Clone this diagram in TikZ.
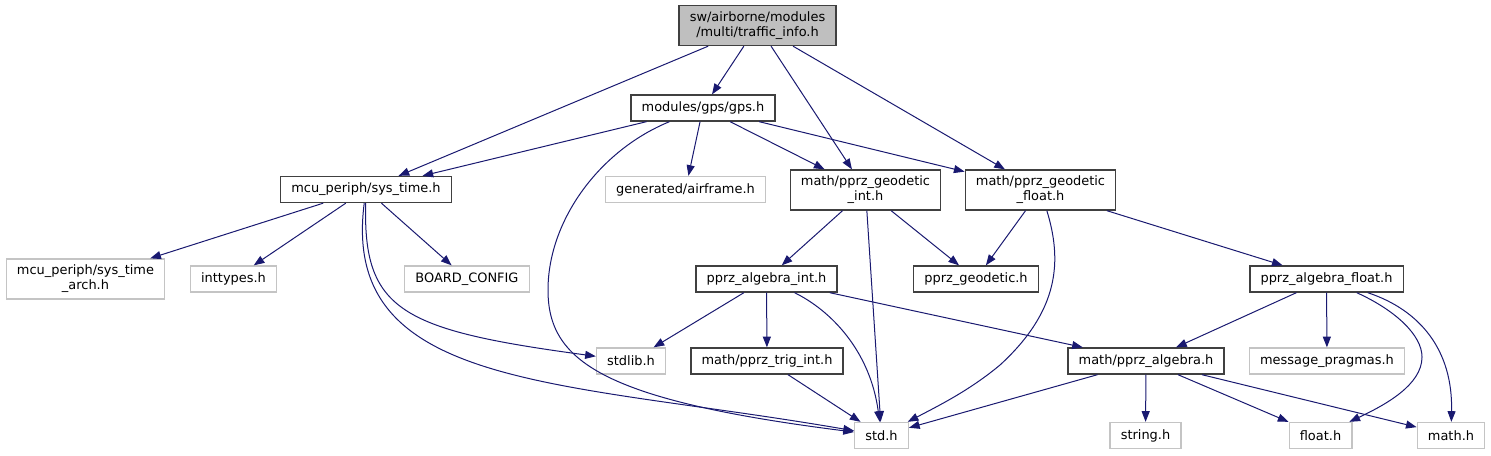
\documentclass[tikz,border=0pt]{standalone}
\usepackage{fontspec}
\setmainfont{DejaVu Sans}
\usetikzlibrary{arrows.meta}
\definecolor{edgeblue}{HTML}{191970}
\definecolor{rootfill}{HTML}{BFBFBF}
\definecolor{boxline}{HTML}{404040}
\definecolor{extline}{HTML}{C4C4C4}

\begin{document}
\begin{tikzpicture}[x=0.75pt, y=-0.75pt,
    font=\fontsize{9.7}{11.25}\selectfont,
    hdr/.style={draw=boxline, line width=1pt, inner xsep=8pt, inner ysep=1pt,
                minimum height=19.5pt, align=center},
    ext/.style={hdr, draw=extline},
    dbl/.style={minimum height=30pt},
    inc/.style={draw=edgeblue, line width=0.75pt,
                -{Triangle[length=8pt, width=6pt]}}]
  \useasboundingbox (0,0) rectangle (1491,455);

  % row 0 and 1
  \node[hdr, dbl, fill=rootfill] (root) at (757.5,25.5) {sw/airborne/modules\\/multi/traffic\_info.h};
  \node[hdr] (gps) at (703,108) {modules/gps/gps.h};

  % row 2
  \node[hdr] (systime) at (366,189.5) {mcu\_periph/sys\_time.h};
  \node[ext] (airframe) at (685.5,189.5) {generated/airframe.h};
  \node[hdr, dbl] (geoint) at (865.5,190) {math/pprz\_geodetic\\\_int.h};
  \node[hdr, dbl] (geofloat) at (1040.5,190) {math/pprz\_geodetic\\\_float.h};

  % row 3
  \node[ext, dbl] (sysarch) at (85.5,279) {mcu\_periph/sys\_time\\\_arch.h};
  \node[ext] (inttypes) at (233.5,279) {inttypes.h};
  \node[ext] (board) at (467,279) {BOARD\_CONFIG};
  \node[hdr] (algint) at (766.5,279) {pprz\_algebra\_int.h};
  \node[hdr] (geodetic) at (976,279) {pprz\_geodetic.h};
  \node[hdr] (algfloat) at (1326.5,279) {pprz\_algebra\_float.h};

  % row 4
  \node[ext] (stdlib) at (631,361) {stdlib.h};
  \node[hdr] (trigint) at (767,361) {math/pprz\_trig\_int.h};
  \node[hdr] (algebra) at (1146,361) {math/pprz\_algebra.h};
  \node[ext] (pragmas) at (1327,361) {message\_pragmas.h};

  % row 5
  \node[ext] (std) at (881.5,435.5) {std.h};
  \node[ext] (string) at (1145.5,435.5) {string.h};
  \node[ext] (float) at (1320.5,435.5) {float.h};
  \node[ext] (math) at (1451,435.5) {math.h};

  % straight includes
  \foreach \a/\b in {root/gps, root/systime, root/geoint, root/geofloat,
      gps/systime, gps/airframe, gps/geoint, gps/geofloat,
      systime/sysarch, systime/inttypes, systime/board,
      geoint/algint, geoint/std, geoint/geodetic,
      geofloat/geodetic, geofloat/algfloat,
      algint/stdlib, algint/trigint, algint/algebra,
      trigint/std, algebra/std, algebra/string, algebra/float, algebra/math,
      algfloat/algebra, algfloat/pragmas}
    \draw[inc] (\a) -- (\b);

  % bent includes
  \draw[inc] (gps) .. controls (600,150) and (548,220) .. (548,290)
    .. controls (548,360) and (600,400) .. (std);
  \draw[inc] (systime) .. controls (363,310) and (400,330) .. (stdlib);
  \draw[inc] (systime) .. controls (340,390) and (560,380) .. (std);
  \draw[inc] (geofloat) .. controls (1062,260) and (1060,310) .. (1000,365)
    .. controls (970,390) and (940,405) .. (std);
  \draw[inc] (algint) .. controls (830,310) and (870,350) .. (std);
  \draw[inc] (algfloat) .. controls (1395,310) and (1422,335) .. (1422,357)
    .. controls (1422,385) and (1385,405) .. (float);
  \draw[inc] (algfloat) .. controls (1420,310) and (1453,350) .. (math);
\end{tikzpicture}
\end{document}
